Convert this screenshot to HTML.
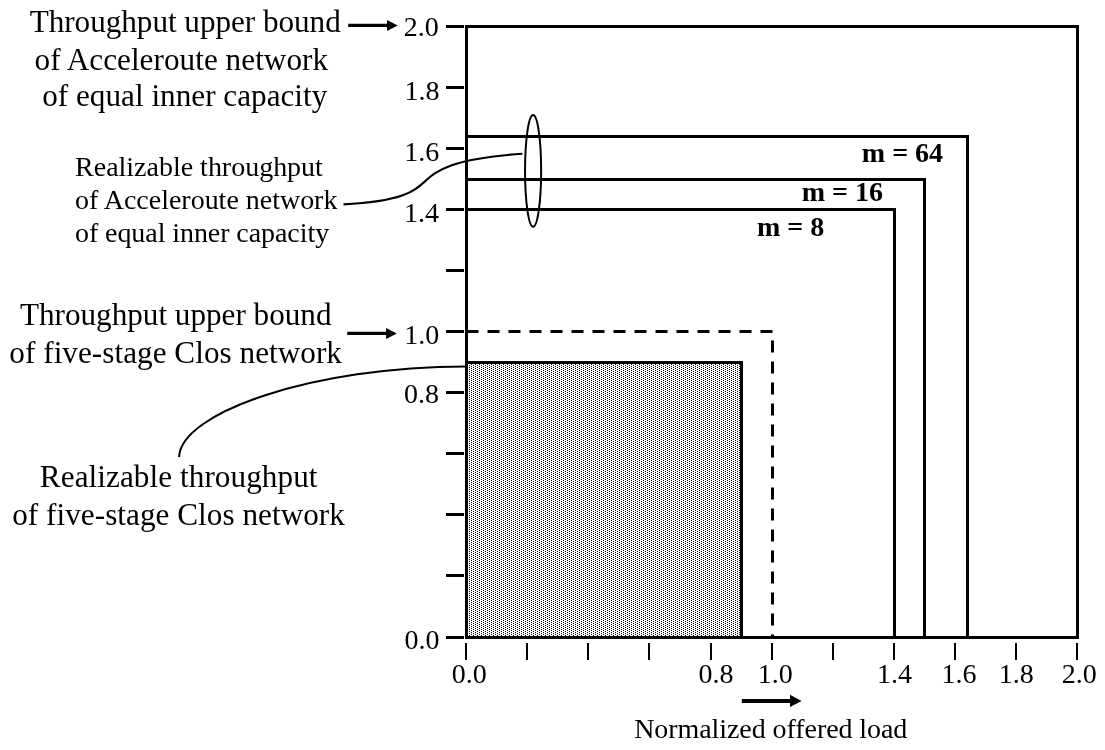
<!DOCTYPE html>
<html><head><meta charset="utf-8"><title>Throughput chart</title>
<style>
html,body{margin:0;padding:0;background:#fff;}
body{width:1105px;height:750px;overflow:hidden;}
svg{display:block;position:absolute;left:0;top:0;will-change:transform;}
text{font-family:"Liberation Serif","Times New Roman",serif;fill:#000;}
.b{font-size:31.2px;}
.s{font-size:28px;}
.m{font-size:28px;font-weight:bold;}
</style></head><body>
<svg width="1105" height="750" viewBox="0 0 1105 750">
<defs>
<pattern id="dots" x="0" y="0" width="4" height="2" patternUnits="userSpaceOnUse">
<rect x="1" y="1" width="1" height="1" fill="#000"/>
<rect x="3" y="0" width="1" height="1" fill="#000"/>
</pattern>
</defs>
<rect x="0" y="0" width="1105" height="750" fill="#fff"/>
<rect x="468" y="364" width="272" height="272" fill="url(#dots)" shape-rendering="crispEdges"/>
<g fill="#000" shape-rendering="crispEdges">
<rect x="465" y="25" width="3" height="614"/>
<rect x="465" y="25" width="614" height="3"/>
<rect x="1076" y="25" width="3" height="614"/>
<rect x="465" y="636" width="614" height="3"/>
<rect x="465" y="135" width="504" height="3"/>
<rect x="966" y="135" width="3" height="504"/>
<rect x="465" y="178" width="461" height="3"/>
<rect x="923" y="178" width="3" height="461"/>
<rect x="465" y="208" width="431" height="3"/>
<rect x="893" y="208" width="3" height="431"/>
<rect x="465" y="361" width="278" height="3"/>
<rect x="740" y="361" width="3" height="278"/>
<rect x="446" y="25" width="18" height="3"/>
<rect x="446" y="86" width="18" height="3"/>
<rect x="446" y="147" width="18" height="3"/>
<rect x="446" y="208" width="18" height="3"/>
<rect x="446" y="269" width="18" height="3"/>
<rect x="446" y="330" width="18" height="3"/>
<rect x="446" y="391" width="18" height="3"/>
<rect x="446" y="452" width="18" height="3"/>
<rect x="446" y="513" width="18" height="3"/>
<rect x="446" y="574" width="18" height="3"/>
<rect x="446" y="636" width="18" height="3"/>
<rect x="465" y="643" width="2" height="17"/>
<rect x="526" y="643" width="2" height="17"/>
<rect x="587" y="643" width="2" height="17"/>
<rect x="648" y="643" width="2" height="17"/>
<rect x="710" y="643" width="2" height="17"/>
<rect x="771" y="643" width="2" height="17"/>
<rect x="832" y="643" width="2" height="17"/>
<rect x="893" y="643" width="2" height="17"/>
<rect x="954" y="643" width="2" height="17"/>
<rect x="1015" y="643" width="2" height="17"/>
<rect x="1076" y="643" width="2" height="17"/>
</g>
<path d="M466.5,331.5 H772.5 V637.5" fill="none" stroke="#000" stroke-width="3" stroke-dasharray="12 9"/>
<ellipse cx="533.1" cy="170.85" rx="8.05" ry="55.85" fill="none" stroke="#000" stroke-width="2"/>
<path d="M343.5,204.4 C465.4,197.9 382,163.8 522.4,153.7" fill="none" stroke="#000" stroke-width="2.1"/>
<path d="M179.06,457.1 C180.6,412.1 314.2,366.6 465.5,366.4" fill="none" stroke="#000" stroke-width="2"/>
<path d="M348.2,23.85 H387 V19.95 L397.7,25.45 L387,30.95 V27.05 H348.2 Z" fill="#000"/>
<path d="M347.2,331.85 H386.1 V327.95 L396.8,333.45 L386.1,338.95 V335.05 H347.2 Z" fill="#000"/>
<path d="M741.8,698.90 H790 V694.80 L801.6,700.95 L790,707.10 V703.00 H741.8 Z" fill="#000"/>
<text id="L1" class="b" x="29.68" y="32.0" textLength="311.08" lengthAdjust="spacing">Throughput upper bound</text>
<text id="L2" class="b" x="34.50" y="69.9" textLength="293.57" lengthAdjust="spacing">of Acceleroute network</text>
<text id="L3" class="b" x="42.21" y="105.9" textLength="285.12" lengthAdjust="spacing">of equal inner capacity</text>
<text id="s1" class="s" x="75.07" y="175.5" textLength="247.79" lengthAdjust="spacing">Realizable throughput</text>
<text id="s2" class="s" x="74.99" y="208.8" textLength="262.43" lengthAdjust="spacing">of Acceleroute network</text>
<text id="s3" class="s" x="74.99" y="241.6" textLength="254.14" lengthAdjust="spacing">of equal inner capacity</text>
<text id="b3" class="b" x="19.93" y="325.3" textLength="311.59" lengthAdjust="spacing">Throughput upper bound</text>
<text id="b4" class="b" x="9.37" y="362.8" textLength="332.53" lengthAdjust="spacing">of five-stage Clos network</text>
<text id="b5" class="b" x="39.87" y="487.2" textLength="277.61" lengthAdjust="spacing">Realizable throughput</text>
<text id="b6" class="b" x="12.17" y="524.5" textLength="332.71" lengthAdjust="spacing">of five-stage Clos network</text>
<text id="y20" class="s" x="403.76" y="35.7">2.0</text>
<text id="y18" class="s" x="404.42" y="99.7">1.8</text>
<text id="y16" class="s" x="404.20" y="160.7">1.6</text>
<text id="y14" class="s" x="404.05" y="221.5">1.4</text>
<text id="y10" class="s" x="404.22" y="343.9">1.0</text>
<text id="y08" class="s" x="403.88" y="403.4">0.8</text>
<text id="y00" class="s" x="404.39" y="648.8">0.0</text>
<text id="x00" class="s" x="451.83" y="682.7">0.0</text>
<text id="x08" class="s" x="698.57" y="682.5">0.8</text>
<text id="x10" class="s" x="757.74" y="682.5">1.0</text>
<text id="x14" class="s" x="877.03" y="682.6">1.4</text>
<text id="x16" class="s" x="941.39" y="682.6">1.6</text>
<text id="x18" class="s" x="998.82" y="682.6">1.8</text>
<text id="x20" class="s" x="1061.81" y="682.6">2.0</text>
<text id="nol" class="s" x="634.16" y="738.2" textLength="273.21" lengthAdjust="spacing">Normalized offered load</text>
<text id="m64" class="m" x="861.83" y="161.9">m = 64</text>
<text id="m16" class="m" x="801.75" y="201.0">m = 16</text>
<text id="m8" class="m" x="757.01" y="236.4">m = 8</text>
</svg>
</body></html>
